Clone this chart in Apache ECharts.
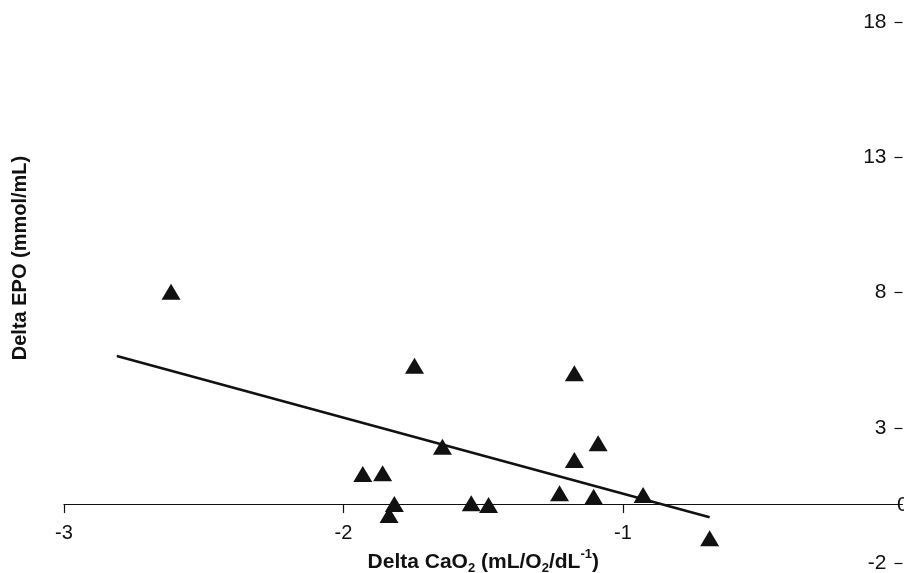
<!DOCTYPE html>
<html>
<head>
<meta charset="utf-8">
<script src="https://cdn.jsdelivr.net/npm/echarts@6/dist/echarts.min.js"></script>
<style>html,body{margin:0;padding:0;background:#fff;}#c{width:904px;height:573px;}</style>
</head>
<body>
<div id="c"></div>
<script>
// Data
const caO2 = [-2.617, -1.746, -1.646, -1.931, -1.860, -1.818, -1.837, -1.543, -1.481, -1.174, -1.089, -1.174, -1.227, -1.105, -0.928, -0.690];
const epo  = [7.86, 5.12, 2.12, 1.11, 1.14, 0.00, -0.41, 0.03, -0.04, 4.84, 2.25, 1.63, 0.40, 0.27, 0.33, -1.27];
const fitX = [-2.811, -0.690];
const fitY = [5.48, -0.49];
const xTicks = [-3, -2, -1];
const yTicks = [-2, 3, 8, 13, 18];

const FONT = "'Liberation Sans', Arial, sans-serif";
const chart = echarts.init(document.getElementById('c'), null, {renderer: 'canvas'});
chart.setOption({
  animation: false,
  backgroundColor: '#fff',
  grid: [
    {left: 64, right: 1.5, top: 22, bottom: 69, containLabel: false, outerBoundsMode: 'none'},
    {left: 64, right: 1.5, top: 22, bottom: 10, containLabel: false, outerBoundsMode: 'none'}
  ],
  xAxis: [
    {
      gridIndex: 0, type: 'value', min: -3, max: 0, interval: 1,
      axisLine: {onZero: false, lineStyle: {color: '#111', width: 1.2}},
      axisTick: {customValues: xTicks, length: 9, lineStyle: {color: '#111', width: 1.2}},
      axisLabel: {customValues: xTicks, color: '#111', fontSize: 20, fontFamily: FONT, margin: 19},
      splitLine: {show: false},
      name: 'Delta CaO{sub|2} (mL/O{sub|2}/dL{sup|-1})',
      nameLocation: 'middle', nameGap: 43,
      nameTextStyle: {
        color: '#111', fontSize: 21, fontWeight: 'bold', fontFamily: FONT,
        rich: {
          sub: {fontSize: 13, fontWeight: 'bold', fontFamily: FONT, color: '#111', verticalAlign: 'bottom', padding: [0, 0, -2, 0]},
          sup: {fontSize: 13, fontWeight: 'bold', fontFamily: FONT, color: '#111', verticalAlign: 'top', padding: [-4, 0, 0, 0]}
        }
      }
    },
    {
      gridIndex: 1, type: 'value', min: -3, max: 0, show: false
    }
  ],
  yAxis: [
    {
      gridIndex: 0, type: 'value', position: 'right', min: 0, max: 17.85,
      axisLine: {show: false}, axisTick: {show: false}, axisLabel: {show: false}, splitLine: {show: false}
    },
    {
      gridIndex: 1, type: 'value', position: 'right', min: -2, max: 18,
      axisLine: {show: false},
      axisTick: {inside: true, customValues: yTicks, length: 8, lineStyle: {color: '#111', width: 1.2}},
      axisLabel: {inside: true, customValues: yTicks, color: '#111', fontSize: 21, fontFamily: FONT, margin: 16},
      splitLine: {show: false}
    }
  ],
  series: [
    {
      type: 'line', xAxisIndex: 0, yAxisIndex: 0, showSymbol: false, symbol: 'none', clip: false,
      data: fitX.map((x, i) => [x, fitY[i]]),
      lineStyle: {color: '#111', width: 2.5}
    },
    {
      type: 'scatter', xAxisIndex: 0, yAxisIndex: 0, symbol: 'triangle', symbolSize: [19, 16], clip: false,
      data: caO2.map((x, i) => [x, epo[i]]),
      itemStyle: {color: '#111', opacity: 1}
    }
  ],
  graphic: [
    {type: 'text', x: 20, y: 258, rotation: Math.PI / 2,
     style: {text: 'Delta EPO (mmol/mL)', fill: '#111', font: 'bold 20px ' + FONT, align: 'center', verticalAlign: 'middle'}},
    {type: 'text', x: 897, y: 505,
     style: {text: '0', fill: '#111', font: '21px ' + FONT, align: 'left', verticalAlign: 'middle'}}
  ]
});
</script>
</body>
</html>
